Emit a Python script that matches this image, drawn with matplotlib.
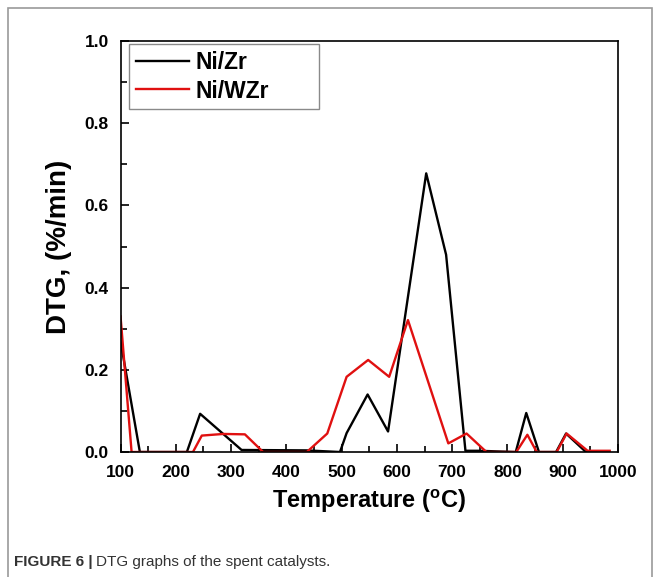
import numpy as np
import matplotlib
matplotlib.use("Agg")
import matplotlib.pyplot as plt
from matplotlib.ticker import MultipleLocator
from matplotlib.patches import Rectangle

plt.rcParams['font.family'] = ['Liberation Sans', 'DejaVu Sans']
plt.rcParams['mathtext.default'] = 'regular'

# Ni/Zr (black)
t_nizr = [100, 135, 220, 244, 319, 436, 497, 509, 547, 584, 653, 689, 724, 749, 815, 834, 857, 888, 906, 942, 960]
dtg_nizr = [0.27, 0.0, 0.0, 0.093, 0.005, 0.004, 0.0, 0.046, 0.14, 0.05, 0.678, 0.48, 0.003, 0.003, 0.0, 0.095, 0.0, 0.0, 0.045, 0.0, 0.0]

# Ni/WZr (red)
t_niwzr = [100, 120, 231, 247, 286, 325, 358, 437, 474, 509, 548, 586, 620, 693, 726, 762, 816, 836, 853, 889, 907, 945, 985]
dtg_niwzr = [0.33, 0.0, 0.0, 0.04, 0.044, 0.043, 0.0, 0.0, 0.045, 0.183, 0.224, 0.183, 0.321, 0.021, 0.045, 0.0, 0.0, 0.042, 0.0, 0.0, 0.045, 0.003, 0.003]

fig = plt.figure(figsize=(6.59, 5.77), dpi=100)
ax = fig.add_axes([0.1829, 0.2166, 0.7549, 0.7123])

ax.plot(t_nizr, dtg_nizr, color='black', lw=1.7, label='Ni/Zr')
ax.plot(t_niwzr, dtg_niwzr, color='#e01010', lw=1.7, label='Ni/WZr')

ax.set_xlim(100, 1000)
ax.set_ylim(0, 1.0)
ax.xaxis.set_major_locator(MultipleLocator(100))
ax.xaxis.set_minor_locator(MultipleLocator(50))
ax.yaxis.set_major_locator(MultipleLocator(0.2))
ax.yaxis.set_minor_locator(MultipleLocator(0.1))
ax.yaxis.set_major_formatter(plt.FormatStrFormatter('%.1f'))
ax.tick_params(which='both', direction='in', top=False, right=False, width=1.2)
ax.tick_params(which='major', length=6, labelsize=12.5)
ax.tick_params(which='minor', length=4)
ax.tick_params(axis='x', which='major', pad=9)
ax.tick_params(axis='y', which='major', pad=8.5)
for lab in ax.get_xticklabels() + ax.get_yticklabels():
    lab.set_fontweight('bold')
for s in ax.spines.values():
    s.set_linewidth(1.2)

ax.set_xlabel(r'Temperature ($^{o}$C)', fontsize=17, fontweight='bold', labelpad=6)
ax.set_ylabel('DTG, (%/min)', fontsize=20, fontweight='bold', labelpad=9)

leg = ax.legend(loc='upper left', bbox_to_anchor=(0.017, 0.6, 0.382, 0.393), mode='expand',
                prop={'weight': 'bold', 'size': 16.5},
                fancybox=False, edgecolor='#8a8a8a', framealpha=1,
                handlelength=2.3, handletextpad=0.3, borderaxespad=0, borderpad=0.3,
                labelspacing=0.25)
leg.get_frame().set_linewidth(1.0)

fig.patches.append(Rectangle((8 / 659, -0.01), 644 / 659, 1 - 8 / 577 + 0.01,
                             transform=fig.transFigure, fill=False,
                             edgecolor='#9a9a9a', lw=1.2))

cap_y = 1 - 562 / 577
t1 = fig.text(14 / 659, cap_y, 'FIGURE 6 |', fontsize=11, fontweight='bold',
              color='#333333', va='center')
r = fig.canvas.get_renderer()
bb = t1.get_window_extent(renderer=r)
fig.text((bb.x1 + 3) / 659, cap_y, 'DTG graphs of the spent catalysts.', fontsize=11,
         color='#333333', va='center')

fig.savefig('out.png', dpi=100)
